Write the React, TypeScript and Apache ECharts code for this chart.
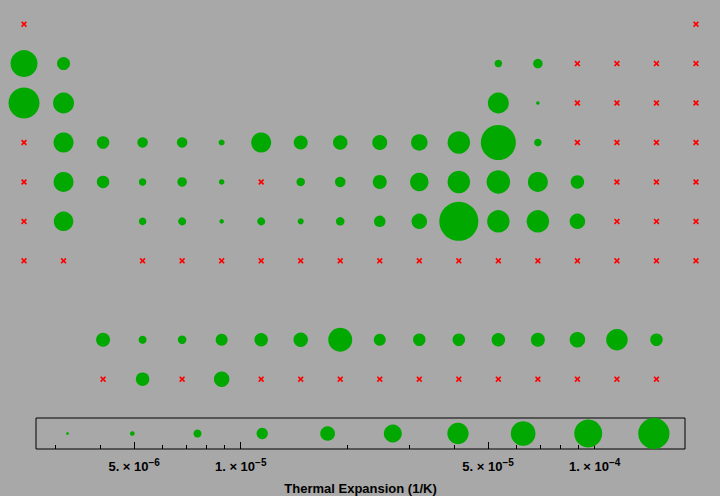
import React, { useEffect, useRef } from "react";
import * as echarts from "echarts";

// "x" = no data (red cross), null = empty cell, number = bubble value
const row0 = ["x", null, null, null, null, null, null, null, null, null, null, null, null, null, null, null, null, "x"];
const row1 = [27, 13, null, null, null, null, null, null, null, null, null, null, 7.5, 9.5, "x", "x", "x", "x"];
const row2 = [31, 21, null, null, null, null, null, null, null, null, null, null, 21, 3.5, "x", "x", "x", "x"];
const row3 = ["x", 20, 12.5, 10.5, 10.5, 6, 20, 14, 14.5, 15, 16.5, 22.5, 35, 7.5, "x", "x", "x", "x"];
const row4 = ["x", 20, 12.5, 7.5, 9.5, 5.5, "x", 8.5, 10.5, 14, 18.5, 22.5, 23.5, 20, 13.5, "x", "x", "x"];
const row5 = ["x", 19.5, null, 7.5, 8, 4.5, 8, 6, 8.5, 11.5, 15.5, 39, 22.5, 22.5, 15.5, "x", "x", "x"];
const row6 = ["x", "x", null, "x", "x", "x", "x", "x", "x", "x", "x", "x", "x", "x", "x", "x", "x", "x"];
const row7 = [null, null, null, null, null, null, null, null, null, null, null, null, null, null, null, null, null, null];
const row8 = [null, null, 14, 8, 8.5, 12, 13.5, 14.5, 24, 12, 12.5, 12.5, 13.5, 14, 15.5, 21.5, 12.5, null];
const row9 = [null, null, "x", 13.5, "x", 15.5, "x", "x", "x", "x", "x", "x", "x", "x", "x", "x", "x", null];
const rows = [row0, row1, row2, row3, row4, row5, row6, row7, row8, row9];

// legend bubbles along the thermal expansion axis
const legendValues = [3.24e-6, 4.94e-6, 7.55e-6, 1.15e-5, 1.76e-5, 2.69e-5, 4.11e-5, 6.28e-5, 9.59e-5, 1.47e-4];
const legendSizes = [2.7, 4.7, 8, 11.3, 14.7, 18, 21.3, 24.7, 28, 31.3];

const axisMin = 2.64e-6;
const axisMax = 1.8e-4;
const majorTicks = [5e-6, 1e-5, 5e-5, 1e-4];
const minorTicks = [3e-6, 4e-6, 6e-6, 7e-6, 8e-6, 9e-6, 2e-5, 3e-5, 4e-5, 6e-5, 7e-5, 8e-5, 9e-5];
const axisTitle = "Thermal Expansion (1/K)";

const FONT = "'Liberation Sans', Arial, Helvetica, sans-serif";
const CROSS = "path://M2,0 L5,3 L8,0 L10,2 L7,5 L10,8 L8,10 L5,7 L2,10 L0,8 L3,5 L0,2 Z";

export default function App() {
  const ref = useRef<HTMLDivElement>(null);
  useEffect(() => {
    if (!ref.current) return;
    const chart = echarts.init(ref.current, undefined, { renderer: "svg" });

    const bubbles: any[] = [];
    const crosses: any[] = [];
    rows.forEach((r, ri) => {
      r.forEach((v: any, ci) => {
        if (v === "x") crosses.push([ci, ri]);
        else if (typeof v === "number") bubbles.push([ci, ri, v]);
      });
    });

    const lmin = Math.log10(axisMin);
    const lmax = Math.log10(axisMax);

    const fmt = (v: number) => {
      const e = Math.floor(v + 1e-9);
      const m = Math.round(Math.pow(10, v - e));
      return `{m|${m}. × 10}{e|−${Math.abs(e)}}`;
    };

    chart.setOption({
      animation: false,
      backgroundColor: "#a8a8a8",
      grid: [
        { left: 4.25, top: 4.4, width: 711.5, height: 394.5, show: false },
        { left: 36, top: 418, width: 649, height: 33, show: true, borderColor: "#000", borderWidth: 1, backgroundColor: "transparent" },
      ],
      xAxis: [
        { type: "value", gridIndex: 0, min: -0.5, max: 17.5, show: false },
        {
          type: "value", gridIndex: 1, min: lmin, max: lmax, position: "bottom",
          axisLine: { show: false }, splitLine: { show: false },
          axisTick: { show: true, inside: true, length: 7, customValues: majorTicks.map(Math.log10), lineStyle: { color: "#000", width: 1 } },
          axisLabel: {
            show: true, customValues: majorTicks.map(Math.log10), margin: 8, formatter: fmt,
            rich: {
              m: { fontFamily: FONT, fontWeight: "bold", fontSize: 13, color: "#000", lineHeight: 18 },
              e: { fontFamily: FONT, fontWeight: "bold", fontSize: 10, color: "#000", verticalAlign: "top", lineHeight: 10 },
            },
          },
          name: axisTitle, nameLocation: "middle", nameGap: 33,
          nameTextStyle: { fontFamily: FONT, fontWeight: "bold", fontSize: 13, color: "#000" },
        },
        {
          type: "value", gridIndex: 1, min: lmin, max: lmax, position: "bottom",
          axisLine: { show: false }, splitLine: { show: false }, axisLabel: { show: false },
          axisTick: { show: true, inside: true, length: 4, customValues: minorTicks.map(Math.log10), lineStyle: { color: "#000", width: 1 } },
        },
      ],
      yAxis: [
        { type: "value", gridIndex: 0, min: -0.5, max: 9.5, inverse: true, show: false },
        { type: "value", gridIndex: 1, min: 0, max: 1, show: false },
      ],
      series: [
        {
          type: "scatter", xAxisIndex: 0, yAxisIndex: 0, data: bubbles,
          symbol: "circle", symbolSize: (d: number[]) => d[2],
          itemStyle: { color: "#00a800", opacity: 1 },
        },
        {
          type: "scatter", xAxisIndex: 0, yAxisIndex: 0, data: crosses,
          symbol: CROSS, symbolSize: 6,
          itemStyle: { color: "#ff0000", opacity: 1 },
        },
        {
          type: "scatter", xAxisIndex: 1, yAxisIndex: 1,
          data: legendValues.map((v, i) => [Math.log10(v), 0.5, legendSizes[i]]),
          symbol: "circle", symbolSize: (d: number[]) => d[2],
          itemStyle: { color: "#00a800", opacity: 1 },
        },
      ],
    });
    return () => chart.dispose();
  }, []);
  return <div ref={ref} style={{ position: "fixed", left: 0, top: 0, width: 720, height: 496 }} />;
}
